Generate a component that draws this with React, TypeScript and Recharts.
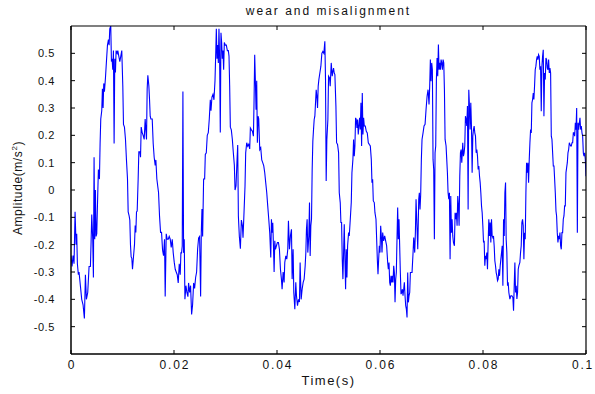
import { LineChart, Line, XAxis, YAxis } from "recharts";

const X_TICKS = [0, 0.02, 0.04, 0.06, 0.08, 0.1];
const Y_TICKS = [-0.5, -0.4, -0.3, -0.2, -0.1, 0, 0.1, 0.2, 0.3, 0.4, 0.5];

// samples as [time in ms, amplitude in m/s^2], one cycle at a time
const CYCLE_1: [number, number][] = [
  [0.0, -0.24], [0.2, -0.28], [0.4, -0.24], [0.59, -0.27], [0.79, -0.08], [0.98, -0.2], [1.11, -0.16],
  [1.24, -0.27], [1.43, -0.31], [1.56, -0.3], [1.82, -0.35], [2.08, -0.4], [2.34, -0.42], [2.6, -0.47],
  [2.8, -0.31], [2.99, -0.4], [3.25, -0.375], [3.51, -0.28], [3.77, -0.28], [3.9, -0.19], [4.03, -0.09],
  [4.22, -0.18], [4.35, -0.32], [4.48, 0.12], [4.61, -0.18], [4.74, 0.0], [4.87, -0.17], [5.0, -0.16],
  [5.2, -0.01], [5.32, 0.075], [5.52, 0.04], [5.65, 0.17], [5.78, 0.26], [5.97, 0.29], [6.1, 0.37],
  [6.23, 0.3], [6.36, 0.39], [6.49, 0.36], [6.69, 0.41], [6.88, 0.47], [7.08, 0.53], [7.27, 0.55],
  [7.4, 0.53], [7.53, 0.59], [7.72, 0.6], [7.85, 0.47], [7.98, 0.48], [8.11, 0.44], [8.24, 0.51],
  [8.37, 0.17], [8.5, 0.48], [8.63, 0.43], [8.76, 0.51], [8.96, 0.5], [9.09, 0.51], [9.28, 0.49],
  [9.48, 0.47], [9.67, 0.49], [9.86, 0.51], [10.06, 0.38], [10.19, 0.24], [10.38, 0.23], [10.58, 0.185],
  [10.77, 0.11], [10.97, 0.04], [11.1, -0.08], [11.29, -0.095], [11.42, -0.11], [11.55, -0.2],
  [11.68, -0.245], [11.81, -0.25], [11.94, -0.29], [12.13, -0.245], [12.33, -0.2], [12.46, -0.13],
  [12.59, -0.155], [12.72, -0.08], [12.85, -0.077], [13.04, 0.04], [13.17, 0.14], [13.37, 0.14],
  [13.5, 0.12], [13.63, 0.23], [13.82, 0.21], [14.01, 0.2], [14.21, 0.185], [14.4, 0.26], [14.53, 0.22],
  [14.66, 0.185], [14.79, 0.37], [14.92, 0.42], [15.12, 0.38], [15.25, 0.33], [15.38, 0.27],
  [15.51, 0.26], [15.64, 0.26], [15.77, 0.26], [15.96, 0.17], [16.15, 0.12], [16.35, 0.09],
  [16.48, 0.11], [16.67, 0.04],
];

const CYCLE_2: [number, number][] = [
  [17.0, -0.01], [17.19, -0.095], [17.39, -0.155], [17.58, -0.155], [17.78, -0.22], [17.97, -0.24],
  [18.16, -0.18], [18.29, -0.39], [18.49, -0.16], [18.68, -0.18], [18.88, -0.18], [19.07, -0.17],
  [19.27, -0.18], [19.46, -0.21], [19.66, -0.18], [19.85, -0.23], [20.05, -0.265], [20.24, -0.29],
  [20.43, -0.3], [20.63, -0.31], [20.82, -0.34], [21.02, -0.27], [21.21, -0.31], [21.34, -0.23],
  [21.47, -0.23], [21.6, -0.205], [21.73, 0.36], [21.86, -0.23], [21.99, -0.18], [22.12, -0.4],
  [22.32, -0.35], [22.51, -0.375], [22.7, -0.39], [22.83, -0.34], [23.03, -0.375], [23.22, -0.35],
  [23.42, -0.455], [23.61, -0.42], [23.81, -0.34], [24.0, -0.36], [24.2, -0.32], [24.39, -0.3],
  [24.59, -0.215], [24.78, -0.175], [24.97, -0.17], [25.17, -0.39], [25.3, -0.155], [25.43, -0.07],
  [25.56, -0.17], [25.75, 0.04], [25.95, 0.04], [26.08, 0.13], [26.27, 0.136], [26.46, 0.2],
  [26.66, 0.21], [26.85, 0.26], [27.05, 0.33], [27.18, 0.29], [27.37, 0.34], [27.57, 0.35],
  [27.76, 0.33], [27.96, 0.4], [28.09, 0.49], [28.22, 0.59], [28.35, 0.48], [28.48, 0.53],
  [28.61, 0.465], [28.73, 0.59], [28.86, 0.48], [28.99, 0.21], [29.12, 0.575], [29.25, 0.54],
  [29.38, 0.48], [29.51, 0.51], [29.64, 0.44], [29.77, 0.54], [29.97, 0.53], [30.16, 0.53],
  [30.36, 0.51], [30.55, 0.51], [30.68, 0.49], [30.81, 0.38], [30.94, 0.23], [31.13, 0.22],
  [31.33, 0.185], [31.52, 0.136], [31.72, 0.09], [31.85, 0.0], [32.04, 0.015], [32.24, 0.11],
  [32.37, 0.165], [32.5, -0.095], [32.69, -0.17], [32.89, -0.215], [33.08, -0.11], [33.28, -0.13],
  [33.4, -0.175], [33.6, -0.08],
];

const CYCLE_3: [number, number][] = [
  [33.79, 0.015], [33.92, 0.136], [34.12, 0.173], [34.31, 0.16], [34.51, 0.167], [34.7, 0.15],
  [34.83, 0.227], [35.03, 0.22], [35.22, 0.215], [35.42, 0.197], [35.54, 0.32], [35.67, 0.495],
  [35.8, 0.4], [35.93, 0.294], [36.06, 0.4], [36.19, 0.173], [36.32, 0.27], [36.45, 0.26],
  [36.65, 0.148], [36.84, 0.155], [37.04, 0.11], [37.23, 0.1], [37.43, 0.088], [37.62, 0.063],
  [37.81, 0.027], [38.01, -0.01], [38.2, -0.058], [38.4, -0.107], [38.59, -0.156], [38.79, -0.247],
  [38.92, -0.107], [39.05, -0.156], [39.18, -0.12], [39.31, -0.204], [39.44, -0.3], [39.57, -0.186],
  [39.7, -0.217], [39.89, -0.204], [40.08, -0.192], [40.28, -0.192], [40.47, -0.217], [40.67, -0.29],
  [40.86, -0.326], [40.99, -0.363], [41.19, -0.3], [41.38, -0.338], [41.51, -0.265], [41.71, -0.241],
  [41.9, -0.253], [42.09, -0.217], [42.22, -0.113], [42.42, -0.217], [42.61, -0.168], [42.81, -0.144],
  [42.94, -0.326], [43.13, -0.217], [43.26, -0.375], [43.46, -0.436], [43.65, -0.338], [43.78, -0.387],
  [43.98, -0.423], [44.17, -0.4], [44.36, -0.41], [44.49, -0.265], [44.69, -0.4], [44.88, -0.363],
  [45.08, -0.338], [45.27, -0.326], [45.47, -0.277], [45.6, -0.229], [45.72, -0.144], [45.85, -0.107],
  [45.98, -0.229], [46.18, -0.168], [46.31, -0.046], [46.44, -0.241], [46.57, -0.131], [46.7, -0.107],
  [46.83, 0.075], [46.96, 0.179], [47.09, 0.221], [47.22, 0.258], [47.35, 0.27], [47.48, 0.319],
  [47.61, 0.367], [47.74, 0.343], [47.87, 0.3], [48.0, 0.38], [48.13, 0.404], [48.32, 0.428],
  [48.52, 0.453], [48.71, 0.5], [48.9, 0.507], [49.1, 0.5], [49.29, 0.544], [49.42, 0.404],
  [49.55, 0.033], [49.68, 0.185], [49.88, 0.258], [50.01, 0.416], [50.2, 0.41], [50.33, 0.38],
  [50.53, 0.465],
];

const CYCLE_4: [number, number][] = [
  [50.72, 0.416], [50.85, 0.434], [50.98, 0.446], [51.11, 0.428], [51.24, 0.422], [51.44, 0.307],
  [51.57, 0.173], [51.76, 0.167], [51.96, 0.136], [52.09, -0.01], [52.28, -0.046], [52.41, -0.119],
  [52.54, -0.119], [52.67, -0.253], [52.8, -0.326], [52.93, -0.229], [53.06, -0.125], [53.19, -0.253],
  [53.32, -0.363], [53.45, -0.217], [53.58, -0.32], [53.71, -0.204], [53.9, -0.156], [54.03, -0.168],
  [54.23, -0.107], [54.42, -0.046], [54.55, 0.063], [54.74, 0.112], [54.87, 0.185], [55.0, 0.124],
  [55.13, 0.161], [55.26, 0.264], [55.39, 0.258], [55.52, 0.227], [55.65, 0.258], [55.78, 0.203],
  [55.91, 0.234], [56.04, 0.264], [56.17, 0.221], [56.3, 0.319], [56.43, 0.161], [56.56, 0.355],
  [56.69, 0.203], [56.82, 0.264], [56.95, 0.234], [57.14, 0.234], [57.34, 0.215], [57.53, 0.209],
  [57.73, 0.173], [57.92, 0.167], [58.12, 0.161], [58.31, 0.112], [58.44, 0.027], [58.57, 0.039],
  [58.7, -0.04], [58.89, -0.046], [59.02, -0.083], [59.22, -0.107], [59.35, -0.18], [59.48, -0.253],
  [59.61, -0.308], [59.74, -0.253], [59.87, -0.204], [60.0, -0.229], [60.13, -0.131], [60.26, -0.168],
  [60.39, -0.229], [60.52, -0.156], [60.71, -0.186], [60.91, -0.168], [61.1, -0.186], [61.29, -0.204],
  [61.49, -0.265], [61.62, -0.29], [61.75, -0.265], [61.88, -0.338], [62.01, -0.35], [62.14, -0.314],
  [62.27, -0.338], [62.4, -0.314], [62.53, -0.338], [62.66, -0.277], [62.79, -0.302], [62.92, -0.411],
  [63.05, -0.326], [63.17, -0.302], [63.3, -0.18], [63.43, -0.064], [63.56, -0.18], [63.69, -0.107],
  [63.82, -0.204], [63.95, -0.302], [64.08, -0.381], [64.21, -0.375], [64.34, -0.363], [64.47, -0.387],
  [64.6, -0.363], [64.73, -0.338], [64.86, -0.387], [64.99, -0.423], [65.12, -0.436], [65.25, -0.466],
  [65.38, -0.302], [65.51, -0.411], [65.64, -0.387], [65.77, -0.375], [65.9, -0.302], [66.03, -0.302],
  [66.22, -0.302], [66.42, -0.229], [66.55, -0.174], [66.74, -0.229], [66.87, -0.156], [67.0, -0.034],
  [67.13, -0.107], [67.33, -0.217], [67.52, -0.034],
];

const CYCLE_5: [number, number][] = [
  [67.64, -0.01], [67.77, -0.071], [67.9, -0.016], [68.03, 0.112], [68.16, 0.185], [68.36, 0.209],
  [68.55, 0.234], [68.75, 0.24], [68.94, 0.294], [69.14, 0.343], [69.33, 0.367], [69.52, 0.313],
  [69.65, 0.38], [69.78, 0.477], [69.91, 0.398], [70.04, 0.465], [70.17, 0.44], [70.3, 0.112],
  [70.43, 0.075], [70.56, -0.18], [70.69, 0.136], [70.82, 0.161], [70.95, 0.404], [71.08, 0.483],
  [71.21, 0.416], [71.34, 0.532], [71.47, 0.44], [71.6, 0.465], [71.73, 0.44], [71.86, 0.477],
  [71.99, 0.465], [72.12, 0.44], [72.25, 0.477], [72.38, 0.465], [72.51, 0.367], [72.64, 0.185],
  [72.83, 0.161], [72.96, 0.112], [73.09, 0.063], [73.22, -0.01], [73.35, -0.034], [73.48, -0.01],
  [73.61, -0.253], [73.74, -0.022], [73.87, -0.156], [74.0, -0.107], [74.13, -0.168], [74.26, -0.192],
  [74.45, -0.204], [74.58, -0.083], [74.71, -0.107], [74.84, -0.083], [74.97, -0.131], [75.1, -0.022],
  [75.23, -0.058], [75.36, -0.131], [75.49, 0.051], [75.62, 0.136], [75.75, 0.148], [75.88, 0.1],
  [76.07, 0.173], [76.2, 0.124], [76.33, 0.136], [76.46, 0.161], [76.59, 0.27], [76.72, 0.258],
  [76.85, 0.234], [76.98, 0.307], [77.11, -0.071], [77.24, 0.367], [77.37, 0.307], [77.5, 0.221],
  [77.63, 0.319], [77.76, 0.234], [77.89, 0.063], [78.02, 0.197], [78.15, 0.221], [78.28, 0.234],
  [78.41, 0.209], [78.54, 0.197], [78.67, 0.136], [78.8, 0.148], [78.93, 0.124], [79.06, 0.075],
  [79.19, 0.088], [79.32, 0.051], [79.45, 0.027], [79.58, -0.01], [79.71, -0.058], [79.84, -0.083],
  [79.97, -0.131], [80.1, -0.192], [80.22, -0.186], [80.35, -0.277], [80.48, -0.241], [80.61, -0.253],
  [80.74, -0.229], [80.87, -0.29], [81.0, -0.192], [81.13, -0.107], [81.26, -0.168], [81.39, -0.119],
  [81.52, -0.192], [81.65, -0.107], [81.78, -0.168], [81.91, -0.174], [82.04, -0.168], [82.17, -0.204],
  [82.3, -0.259], [82.43, -0.277], [82.56, -0.302], [82.69, -0.314], [82.82, -0.332], [82.95, -0.326],
  [83.08, -0.29], [83.21, -0.314], [83.34, -0.277], [83.47, -0.253], [83.6, -0.229], [83.73, -0.204],
  [83.86, -0.35], [83.99, -0.107], [84.12, -0.168], [84.25, -0.01], [84.38, 0.027],
];

const CYCLE_6: [number, number][] = [
  [84.5, -0.18], [84.63, -0.229], [84.76, -0.35], [84.89, -0.338], [85.02, -0.375], [85.22, -0.399],
  [85.41, -0.387], [85.6, -0.387], [85.8, -0.393], [85.93, -0.442], [86.06, -0.35], [86.19, -0.265],
  [86.32, -0.375], [86.45, -0.35], [86.58, -0.399], [86.71, -0.375], [86.84, -0.29], [86.97, -0.277],
  [87.16, -0.265], [87.29, -0.229], [87.42, -0.204], [87.55, -0.119], [87.68, -0.107], [87.81, -0.131],
  [87.94, -0.253], [88.07, -0.156], [88.2, -0.18], [88.33, -0.01], [88.46, 0.1], [88.59, 0.063],
  [88.72, 0.1], [88.85, 0.027], [88.98, 0.112], [89.11, 0.173], [89.24, 0.221], [89.37, 0.209],
  [89.5, 0.319], [89.63, 0.331], [89.76, 0.355], [89.88, 0.331], [90.01, 0.38], [90.14, 0.44],
  [90.27, 0.453], [90.4, 0.477], [90.53, 0.489], [90.66, 0.477], [90.79, 0.495], [90.92, 0.489],
  [91.05, 0.44], [91.18, 0.453], [91.31, 0.288], [91.44, 0.453], [91.57, 0.489], [91.7, 0.513],
  [91.83, 0.27], [91.96, 0.428], [92.09, 0.404], [92.22, 0.483], [92.35, 0.477], [92.48, 0.446],
  [92.61, 0.44], [92.74, 0.477], [92.87, 0.428], [93.0, 0.446], [93.13, 0.428], [93.26, 0.197],
  [93.39, 0.185], [93.52, 0.136], [93.65, 0.088], [93.78, 0.088], [93.91, 0.039], [94.04, -0.01],
  [94.17, -0.077], [94.29, -0.095], [94.42, -0.156], [94.55, -0.192], [94.68, -0.168], [94.81, -0.18],
  [94.94, -0.156], [95.07, -0.204], [95.2, -0.217], [95.33, -0.156], [95.46, -0.156], [95.59, -0.107],
  [95.72, -0.095], [95.85, -0.058], [95.98, -0.058], [96.11, 0.063], [96.24, 0.082], [96.37, 0.1],
  [96.5, 0.136], [96.63, 0.148], [96.76, 0.173], [96.89, 0.167], [97.02, 0.161], [97.15, 0.161],
  [97.28, 0.173], [97.41, 0.173], [97.54, 0.209], [97.67, 0.209], [97.8, 0.197], [97.93, 0.246],
  [98.06, 0.221], [98.19, 0.3], [98.32, -0.156], [98.45, 0.246], [98.58, 0.221], [98.71, 0.246],
  [98.83, 0.264], [98.96, 0.221], [99.09, 0.234], [99.22, 0.209], [99.35, 0.197], [99.48, 0.136],
  [99.61, 0.124], [99.74, 0.136], [99.87, 0.112], [100.0, 0.05],
];

const data = [...CYCLE_1, ...CYCLE_2, ...CYCLE_3, ...CYCLE_4, ...CYCLE_5, ...CYCLE_6].map(
  ([ms, amp]) => ({ t: ms / 1000, amp })
);

const FONT = "'Liberation Sans', Arial, Helvetica, sans-serif";
const TICK_LEN = 4;

// matlab style: ticks point into the box
function BottomTick(props: any) {
  const { x, y, payload } = props;
  // keep the last label ("0.1") inside the page
  const tx = Math.min(x + 0.9, 583);
  return (
    <g>
      <line x1={x} y1={y} x2={x} y2={y - TICK_LEN} stroke="#000" />
      <text x={tx} y={y + 15} textAnchor="middle" fontSize={12} letterSpacing={1.8} fill="#111" fontFamily={FONT}>
        {payload.value}
      </text>
    </g>
  );
}

function TopTick(props: any) {
  const { x, y } = props;
  return <line x1={x} y1={y} x2={x} y2={y + TICK_LEN} stroke="#000" />;
}

function LeftTick(props: any) {
  const { x, y, payload } = props;
  return (
    <g>
      <line x1={x} y1={y} x2={x + TICK_LEN} y2={y} stroke="#000" />
      <text x={x - 16} y={y + 4} textAnchor="end" fontSize={11} letterSpacing={0.6} fill="#111" fontFamily={FONT}>
        {payload.value}
      </text>
    </g>
  );
}

function RightTick(props: any) {
  const { x, y } = props;
  return <line x1={x} y1={y} x2={x - TICK_LEN} y2={y} stroke="#000" />;
}

export default function App() {
  return (
    <div style={{ position: "absolute", left: 0, top: 0, width: 595, height: 394, background: "#fff", fontFamily: FONT }}>
      <LineChart width={595} height={394} data={data} margin={{ top: 25, right: 8, bottom: 0, left: 0 }}>
        <XAxis
          dataKey="t"
          type="number"
          domain={[0, 0.1]}
          ticks={X_TICKS}
          interval={0}
          allowDataOverflow
          height={40}
          tickSize={0}
          tickMargin={0}
          tickLine={false}
          axisLine={{ stroke: "#000", strokeWidth: 1.5 }}
          tick={<BottomTick />}
        />
        <XAxis
          xAxisId="top"
          orientation="top"
          dataKey="t"
          type="number"
          domain={[0, 0.1]}
          ticks={X_TICKS}
          interval={0}
          allowDataOverflow
          height={1}
          tickSize={0}
          tickMargin={0}
          tickLine={false}
          axisLine={{ stroke: "#000", strokeWidth: 1.2 }}
          tick={<TopTick />}
        />
        <YAxis
          type="number"
          domain={[-0.6, 0.6]}
          ticks={Y_TICKS}
          interval={0}
          allowDataOverflow
          width={71}
          tickSize={0}
          tickMargin={0}
          tickLine={false}
          axisLine={{ stroke: "#000", strokeWidth: 1.5 }}
          tick={<LeftTick />}
        />
        <YAxis
          yAxisId="right"
          orientation="right"
          type="number"
          domain={[-0.6, 0.6]}
          ticks={Y_TICKS}
          interval={0}
          allowDataOverflow
          width={1}
          tickSize={0}
          tickMargin={0}
          tickLine={false}
          axisLine={{ stroke: "#000", strokeWidth: 1.2 }}
          tick={<RightTick />}
        />
        <Line
          dataKey="amp"
          type="linear"
          stroke="#0000ff"
          strokeWidth={1.1}
          dot={false}
          activeDot={false}
          isAnimationActive={false}
        />
        {/* invisible twin so the mirrored axes have a series */}
        <Line
          xAxisId="top"
          yAxisId="right"
          dataKey="amp"
          stroke="none"
          dot={false}
          activeDot={false}
          isAnimationActive={false}
        />
      </LineChart>
      <div
        style={{
          position: "absolute",
          top: 4,
          left: 71,
          width: 515,
          textAlign: "center",
          fontSize: 12,
          letterSpacing: 2,
          color: "#111",
        }}
      >
        wear and misalignment
      </div>
      <div
        style={{
          position: "absolute",
          top: 373,
          left: 71,
          width: 515,
          textAlign: "center",
          fontSize: 13,
          letterSpacing: 1.5,
          color: "#111",
        }}
      >
        Time(s)
      </div>
      <div
        style={{
          position: "absolute",
          left: 17,
          top: 188,
          transform: "translate(-50%, -50%) rotate(-90deg)",
          whiteSpace: "nowrap",
          fontSize: 12,
          letterSpacing: 0.6,
          color: "#111",
        }}
      >
        Amplitude(m/s<sup style={{ fontSize: 8 }}>2</sup>)
      </div>
    </div>
  );
}
